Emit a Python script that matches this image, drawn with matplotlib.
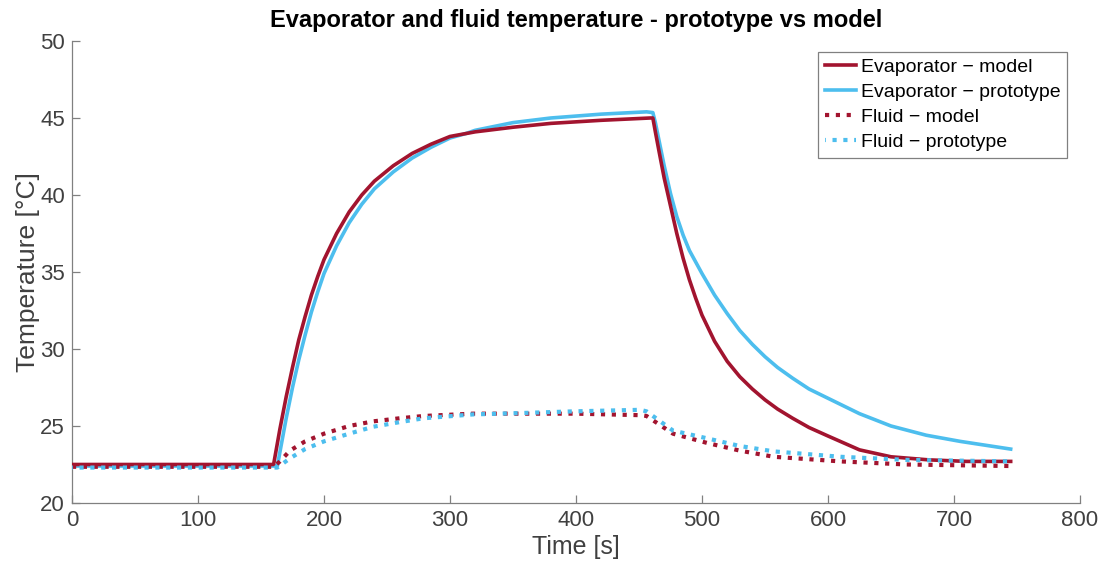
import matplotlib.pyplot as plt

plt.rcParams['font.family'] = ['Liberation Sans', 'DejaVu Sans']

# Evaporator - model
evap_model_t = [0, 160, 165, 170, 175, 180, 185, 190, 195, 200, 210, 220, 230, 240, 255,
                270, 285, 300, 320, 350, 380, 420, 459, 461, 463, 466, 470, 475, 480,
                485, 490, 495, 500, 510, 520, 530, 540, 550, 560, 572, 585, 600, 625,
                650, 680, 710, 745]
evap_model_T = [22.5, 22.5, 24.8, 26.9, 28.8, 30.6, 32.1, 33.5, 34.7, 35.8, 37.5, 38.9,
                40.0, 40.9, 41.9, 42.7, 43.3, 43.8, 44.1, 44.4, 44.65, 44.85, 45.0,
                45.0, 44.1, 42.8, 41.1, 39.3, 37.5, 35.9, 34.5, 33.3, 32.2, 30.5, 29.2,
                28.2, 27.4, 26.7, 26.1, 25.5, 24.9, 24.35, 23.45, 23.0, 22.8, 22.7, 22.7]

# Evaporator - prototype
evap_proto_t = [0, 163, 165, 170, 175, 180, 185, 190, 195, 200, 210, 220, 230, 240, 255,
                270, 285, 300, 313, 320, 350, 380, 420, 456, 461, 463, 466, 470, 475,
                480, 485, 490, 500, 510, 520, 530, 540, 550, 560, 572, 585, 600, 625,
                650, 678, 705, 745]
evap_proto_T = [22.4, 22.4, 23.3, 25.5, 27.5, 29.3, 30.9, 32.4, 33.7, 34.9, 36.7, 38.2,
                39.4, 40.4, 41.5, 42.4, 43.1, 43.7, 44.0, 44.2, 44.7, 45.0, 45.25, 45.4,
                45.35, 44.7, 43.5, 41.9, 40.1, 38.6, 37.4, 36.4, 34.9, 33.5, 32.3, 31.2,
                30.3, 29.5, 28.8, 28.1, 27.4, 26.8, 25.8, 25.0, 24.4, 24.0, 23.5]

# Fluid - model
fluid_model_t = [0, 160, 165, 173, 185, 200, 220, 239, 260, 279, 318, 360, 400, 452,
                 456, 477, 504, 530, 557, 610, 662, 745]
fluid_model_T = [22.35, 22.35, 22.7, 23.4, 24.0, 24.5, 25.0, 25.3, 25.5, 25.65, 25.8,
                 25.8, 25.8, 25.7, 25.65, 24.5, 23.9, 23.4, 23.0, 22.7, 22.5, 22.4]

# Fluid - prototype
fluid_proto_t = [0, 163, 173, 185, 200, 220, 239, 260, 279, 318, 360, 398, 451, 456,
                 477, 504, 530, 557, 610, 662, 745]
fluid_proto_T = [22.3, 22.3, 22.9, 23.5, 24.0, 24.5, 24.95, 25.25, 25.5, 25.75, 25.85,
                 25.95, 26.05, 25.95, 24.7, 24.2, 23.7, 23.35, 23.0, 22.8, 22.7]

red = '#A2142F'
blue = '#4DBEEE'

fig = plt.figure(figsize=(11.01, 5.67), dpi=100)
ax = fig.add_axes([0.0654, 0.1129, 0.9155, 0.8148])

ax.plot(evap_model_t, evap_model_T, color=red, lw=2.6, label='Evaporator \u2212 model', zorder=4)
ax.plot(evap_proto_t, evap_proto_T, color=blue, lw=2.6, label='Evaporator \u2212 prototype', zorder=3)
ax.plot(fluid_model_t, fluid_model_T, color=red, lw=3, ls=(0, (1, 1.6)),
        dash_capstyle='butt', label='Fluid \u2212 model', zorder=3)
ax.plot(fluid_proto_t, fluid_proto_T, color=blue, lw=3, ls=(0.8, (1, 1.6)),
        dash_capstyle='butt', label='Fluid \u2212 prototype', zorder=4)

ax.set_xlim(0, 800)
ax.set_ylim(20, 50)
ax.set_xticks(range(0, 801, 100))
ax.set_yticks(range(20, 51, 5))

for side in ['top', 'right']:
    ax.spines[side].set_visible(False)
for side in ['left', 'bottom']:
    ax.spines[side].set_color('#808080')
    ax.spines[side].set_linewidth(0.9)
ax.tick_params(direction='in', length=6, width=0.9, color='#808080',
               labelsize=16, labelcolor='#404040', pad=5)

ax.set_xlabel('Time [s]', fontsize=18, color='#404040', labelpad=3)
ax.set_ylabel('Temperature [\u00b0C]', fontsize=19, color='#404040', labelpad=0)
ax.set_title('Evaporator and fluid temperature - prototype vs model',
             fontsize=17, fontweight='bold', pad=10)

leg = ax.legend(loc='upper right', bbox_to_anchor=(0.987, 0.976), fontsize=14,
                handlelength=1.6, handletextpad=0.25, borderpad=0.33,
                labelspacing=0.38, fancybox=False, framealpha=1, borderaxespad=0)
leg.get_frame().set_edgecolor('#808080')
leg.get_frame().set_linewidth(0.9)

plt.savefig('out.png', dpi=100)
